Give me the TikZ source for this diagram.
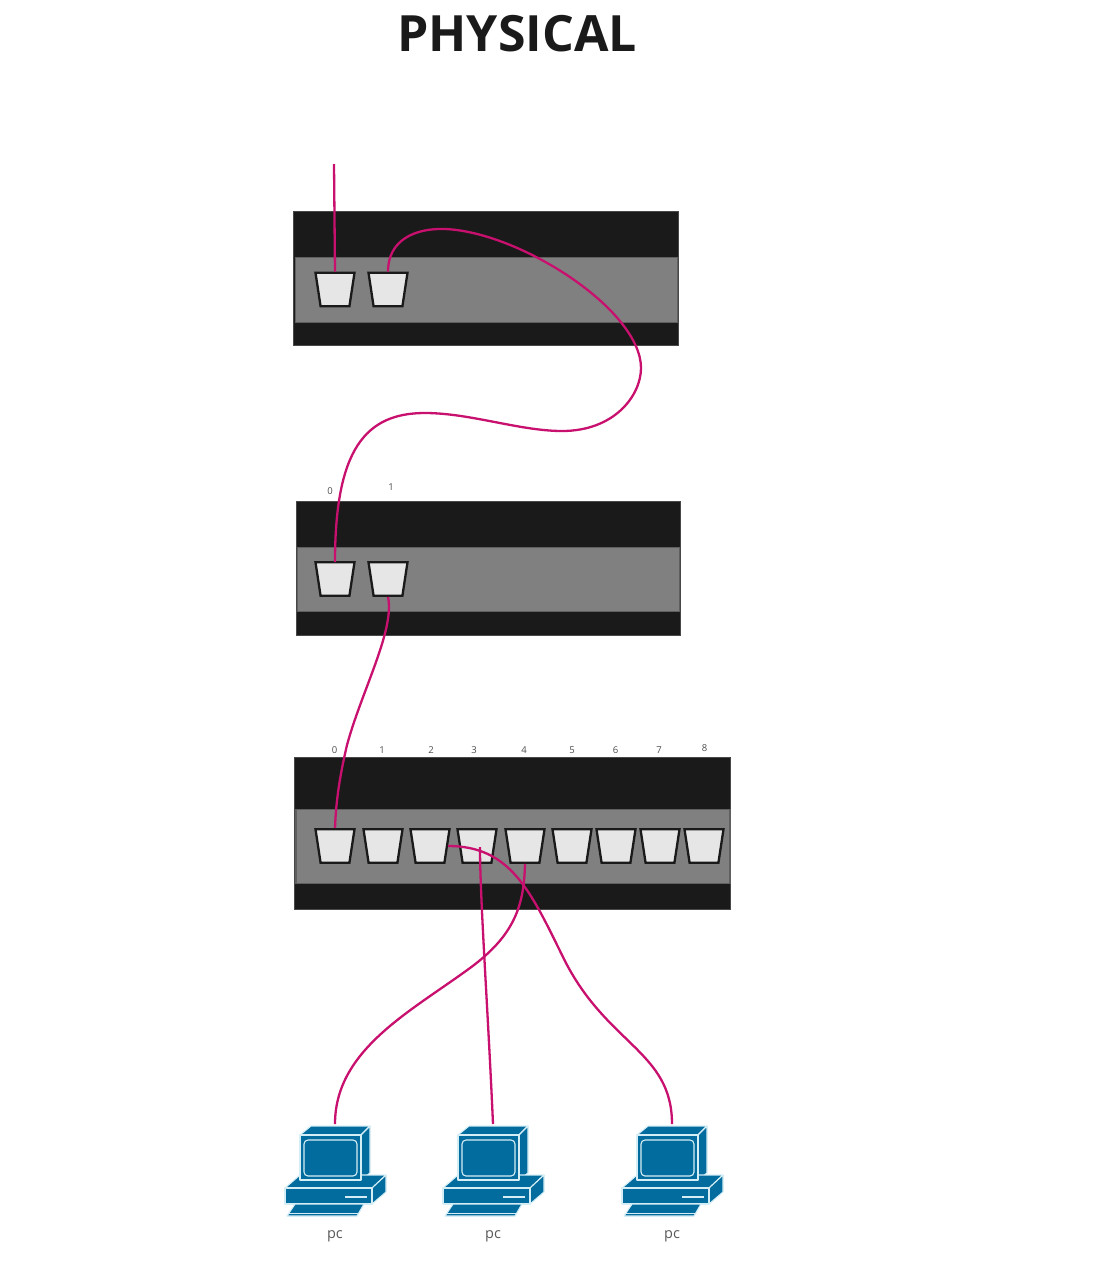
\documentclass[tikz,border=0pt]{standalone}
\usepackage{fontspec}
\setmainfont{Open Sans}
\usetikzlibrary{shapes.geometric}
\definecolor{wire}{HTML}{C8106E}
\definecolor{chassis}{HTML}{1A1A1A}
\definecolor{panelgrey}{HTML}{808080}
\definecolor{portfill}{HTML}{E6E6E6}
\definecolor{pcblue}{HTML}{036C9E}
\definecolor{pcline}{HTML}{D5EEF6}
\tikzset{
  chassisbox/.style={draw=chassis!80!white,line width=0.6pt,fill=chassis,inner sep=0pt,anchor=north west},
  panelbox/.style={draw=chassis!70!white,line width=1.8pt,fill=panelgrey,inner sep=0pt,anchor=north west},
  portbox/.style={trapezium,trapezium stretches=true,trapezium angle=80,shape border rotate=180,draw=chassis,line width=2.3pt,fill=portfill,minimum width=39pt,minimum height=33.5pt,inner sep=2pt},
  wireline/.style={draw=wire,line width=2.3pt},
  tinylabel/.style={font=\fontsize{9.5}{10}\selectfont,text=black!70,inner sep=0pt},
  pclabel/.style={font=\fontsize{14.5}{16}\selectfont,text=black!65,inner sep=0pt},
  pcpart/.style={fill=pcblue,draw=pcline,line width=1.1pt,line join=round},
  pics/pcicon/.style={code={
    % monitor
    \path[pcpart] (-35,11) -- (-24,2) -- (35,2) -- (26,11) -- cycle;
    \path[pcpart] (26,11) -- (35,2) -- (35,49) -- (26,56) -- cycle;
    % base
    \path[pcpart] (-50,64) -- (-35,51) -- (51,51) -- (37,64) -- cycle;
    \path[pcpart] (37,64) -- (51,51) -- (51,68) -- (37,80) -- cycle;
    \path[pcpart] (-50,64) rectangle (37,80);
    \path[pcpart] (-35,11) rectangle (26,56);
    \draw[pcline,line width=1.1pt,rounded corners=4pt] (-31,16) rectangle (22,52);
    \fill[pcline] (10,72) rectangle (32,74);
    % keyboard
    \path[pcpart] (-48,92) -- (-40,80) -- (29,80) -- (22,92) -- cycle;
    \draw[pcline,line width=1pt] (-46,89) -- (24,89);
  }}
}
\begin{document}
\begin{tikzpicture}[x=1pt,y=-1pt]
\useasboundingbox (0,0) rectangle (1115,1280);
\node[font=\fontsize{50}{54}\selectfont\bfseries,text=chassis,inner sep=0pt] (title) at (517,34) {PHYSICAL};

% top device
\node[chassisbox,minimum width=385pt,minimum height=134pt] (devA) at (293,211) {};
\node[panelbox,minimum width=382pt,minimum height=65pt] (panelA) at (294.5,256.5) {};
\node[portbox] (a0) at (335,289.5) {};
\node[portbox] (a1) at (388,289.5) {};

% middle device
\node[chassisbox,minimum width=384pt,minimum height=134pt] (devB) at (295.5,500.5) {};
\node[panelbox,minimum width=382pt,minimum height=64pt] (panelB) at (296.5,546.5) {};
\node[portbox] (b0) at (335,579) {};
\node[portbox] (b1) at (388,579) {};
\node[tinylabel] (lb0) at (330,491) {0};
\node[tinylabel] (lb1) at (391,487) {1};

% bottom device
\node[chassisbox,minimum width=436pt,minimum height=152pt] (devC) at (294,757) {};
\node[panelbox,minimum width=433.5pt,minimum height=74pt] (panelC) at (295.3,808.5) {};
\foreach \n/\x/\lx/\ly in {0/335/334.5/750,1/383/382/750,2/430/431/750,3/477/474/750,4/525/524/750,5/572/572/750,6/616/615.5/750,7/660/659/750,8/704/704.5/748}{
  \node[portbox] (c\n) at (\x,846) {};
  \node[tinylabel] (lc\n) at (\lx,\ly) {\n};
}

% computers
\pic (pcA) at (335,1124) {pcicon};
\pic (pcB) at (493,1124) {pcicon};
\pic (pcC) at (672,1124) {pcicon};
\coordinate (topA) at (335,1124);
\coordinate (topB) at (493,1124);
\coordinate (topC) at (672,1124);
\node[pclabel] (lpA) at (335,1236) {pc};
\node[pclabel] (lpB) at (493,1236) {pc};
\node[pclabel] (lpC) at (672,1236) {pc};

% wires
\coordinate (feed) at (334,164);
\draw[wireline] (feed) -- (a0.north);
\draw[wireline] (a1.north)
  .. controls (388,240) and (415,228) .. (445,229)
  .. controls (520,232) and (641,310) .. (641,368)
  .. controls (641,395) and (615,431) .. (562,431)
  .. controls (520,431) and (470,413) .. (425,413)
  .. controls (365,413) and (335,450) .. (335,562);
\draw[wireline] (b1.south)
  .. controls (395,630) and (362,690) .. (347,745)
  .. controls (340,775) and (336,800) .. (335,828);
\draw[wireline] (c2.east)
  .. controls (510,846) and (530,890) .. (562,955)
  .. controls (605,1045) and (672,1050) .. (topC);
\draw[wireline] (480,847) .. controls (480,900) and (488,1010) .. (topB);
\draw[wireline] (c4.south)
  .. controls (524,905) and (515,935) .. (470,968)
  .. controls (410,1012) and (335,1050) .. (topA);
\end{tikzpicture}
\end{document}
